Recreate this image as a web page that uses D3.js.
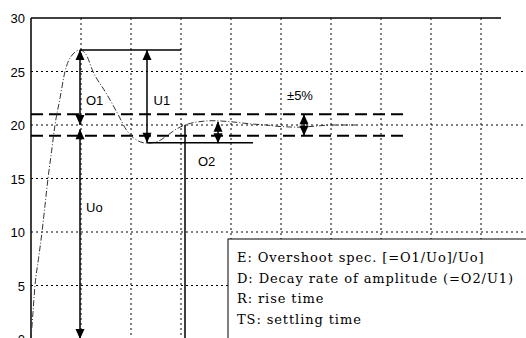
<!DOCTYPE html>
<html>
<head>
<meta charset="utf-8">
<script src="https://cdn.jsdelivr.net/npm/d3@7"></script>
<style>
  body { margin: 0; background: #fff; }
  svg { display: block; }
  .lbl { font-family: "Liberation Sans", Arial, sans-serif; font-size: 13px; fill: #000; }
  .leg { font-family: "DejaVu Serif", "Liberation Serif", serif; font-size: 13px; letter-spacing: 0.9px; fill: #000; }
</style>
</head>
<body>
<div id="chart"></div>
<script>
// y tick labels and grid
const yTicks = [0, 5, 10, 15, 20, 25, 30]
const xGrid = [1, 2, 3, 4, 5, 6, 7, 8, 9]

// step response (t in grid units, value)
const curveT = [0, 0.04, 0.08, 0.15, 0.22, 0.28, 0.34, 0.41, 0.48, 0.58, 0.68, 0.8, 0.98, 1.1, 1.24, 1.5, 1.74, 1.9, 2.05, 2.32, 2.55, 2.72, 2.9, 3.08, 3.35, 3.64, 4.0, 4.4, 4.7, 5.0, 5.38, 5.7, 6.0, 6.5]
const curveV = [0, 2.5, 5, 7.5, 10, 12.5, 15, 17.5, 20, 22.5, 25, 26.4, 27, 26.6, 25, 23, 21, 19.6, 18.8, 18.3, 18.5, 19, 19.6, 20, 20.3, 20.4, 20.3, 20.1, 20, 19.85, 19.8, 19.9, 20, 20]

// tolerance band (+-5%)
const bandLevels = [21, 19]

// annotation arrows: [t, from, to, headAtFrom, headAtTo]
const arrows = [
    [0.98, 20, 27, true, true],     // O1
    [0.98, 19.6, 0, true, true],    // Uo
    [2.32, 18.35, 27, true, true],  // U1
    [3.74, 18.3, 20.3, true, true], // O2
    [5.46, 19, 21, true, true]      // +-5%
]
// plain reference lines: [t1, v1, t2, v2]
const refLines = [
    [0.98, 27, 3.0, 27],
    [2.32, 18.35, 4.44, 18.35],
    [3.08, 20, 3.08, 0]
]
const labels = [
    ['O1', 1.1, 21.9],
    ['U1', 2.45, 21.9],
    ['O2', 3.34, 16.2],
    ['Uo', 1.1, 11.9],
    ['\u00b15%', 5.12, 22.3]
]
const legendLines = [
    'E: Overshoot spec. [=O1/Uo]/Uo]',
    'D: Decay rate of amplitude (=O2/U1)',
    'R: rise time',
    'TS: settling time'
]

const width = 526, height = 338

const svg = d3.select('#chart').append('svg')
    .attr('width', width)
    .attr('height', height)

const x = d3.scaleLinear().domain([0, 10]).range([31, 531])
const y = d3.scaleLinear().domain([0, 30]).range([339, 18])

// grid
svg.append('g').selectAll('line')
    .data(yTicks.filter(d => d > 0 && d < 30))
    .join('line')
        .attr('x1', x(0)).attr('x2', x(10))
        .attr('y1', d => y(d)).attr('y2', d => y(d))
        .attr('stroke', '#000')
        .attr('stroke-dasharray', '2,3')
svg.append('g').selectAll('line')
    .data(xGrid)
    .join('line')
        .attr('x1', d => x(d)).attr('x2', d => x(d))
        .attr('y1', y(30)).attr('y2', y(0))
        .attr('stroke', '#000')
        .attr('stroke-dasharray', '2,3')

// frame: left axis + top
svg.append('line')
    .attr('x1', x(0)).attr('x2', x(0)).attr('y1', y(30)).attr('y2', y(0))
    .attr('stroke', '#000').attr('stroke-width', 1.5)
svg.append('line')
    .attr('x1', x(0)).attr('x2', x(9.4)).attr('y1', y(30)).attr('y2', y(30))
    .attr('stroke', '#000').attr('stroke-width', 1.5)

// y labels
svg.append('g').selectAll('text')
    .data(yTicks)
    .join('text')
        .attr('class', 'lbl')
        .attr('x', 25)
        .attr('y', d => y(d) + 5)
        .attr('text-anchor', 'end')
        .text(d => d)

// tolerance band
svg.append('g').selectAll('line')
    .data(bandLevels)
    .join('line')
        .attr('x1', x(0)).attr('x2', x(7.52))
        .attr('y1', d => y(d)).attr('y2', d => y(d))
        .attr('stroke', '#000')
        .attr('stroke-width', 2)
        .attr('stroke-dasharray', '12,6')

// response curve
const pts = curveT.map((t, i) => [t, curveV[i]])
svg.append('path')
    .datum(pts)
    .attr('fill', 'none')
    .attr('stroke', '#333')
    .attr('stroke-width', 1)
    .attr('stroke-dasharray', '6,2,1,2')
    .attr('d', d3.line().x(d => x(d[0])).y(d => y(d[1])).curve(d3.curveMonotoneX))

// reference lines
svg.append('g').selectAll('line')
    .data(refLines)
    .join('line')
        .attr('x1', d => x(d[0])).attr('y1', d => y(d[1]))
        .attr('x2', d => x(d[2])).attr('y2', d => y(d[3]))
        .attr('stroke', '#000')
        .attr('stroke-width', 1.5)

// arrows
const head = (px, py, dir) => {
    // dir: -1 tip points up, 1 tip points down
    return `M${px},${py} L${px - 4.5},${py - dir * 10} L${px + 4.5},${py - dir * 10} Z`
}
const ag = svg.append('g')
arrows.forEach(a => {
    let px = x(a[0]), p1 = y(a[1]), p2 = y(a[2])
    ag.append('line')
        .attr('x1', px).attr('x2', px).attr('y1', p1).attr('y2', p2)
        .attr('stroke', '#000').attr('stroke-width', 1.5)
    let d1 = p1 > p2 ? 1 : -1
    if (a[3]) ag.append('path').attr('d', head(px, p1, d1)).attr('fill', '#000')
    if (a[4]) ag.append('path').attr('d', head(px, p2, -d1)).attr('fill', '#000')
})

// labels
svg.append('g').selectAll('text')
    .data(labels)
    .join('text')
        .attr('class', 'lbl')
        .attr('x', d => x(d[1]))
        .attr('y', d => y(d[2]))
        .text(d => d[0])

// legend box
svg.append('rect')
    .attr('x', 228).attr('y', 239)
    .attr('width', 320).attr('height', 120)
    .attr('fill', '#fff')
    .attr('stroke', '#000')
    .attr('stroke-width', 1)
svg.append('g').selectAll('text')
    .data(legendLines)
    .join('text')
        .attr('class', 'leg')
        .attr('x', 237)
        .attr('y', (d, i) => 262 + i * 20.6)
        .text(d => d)
</script>
</body>
</html>
